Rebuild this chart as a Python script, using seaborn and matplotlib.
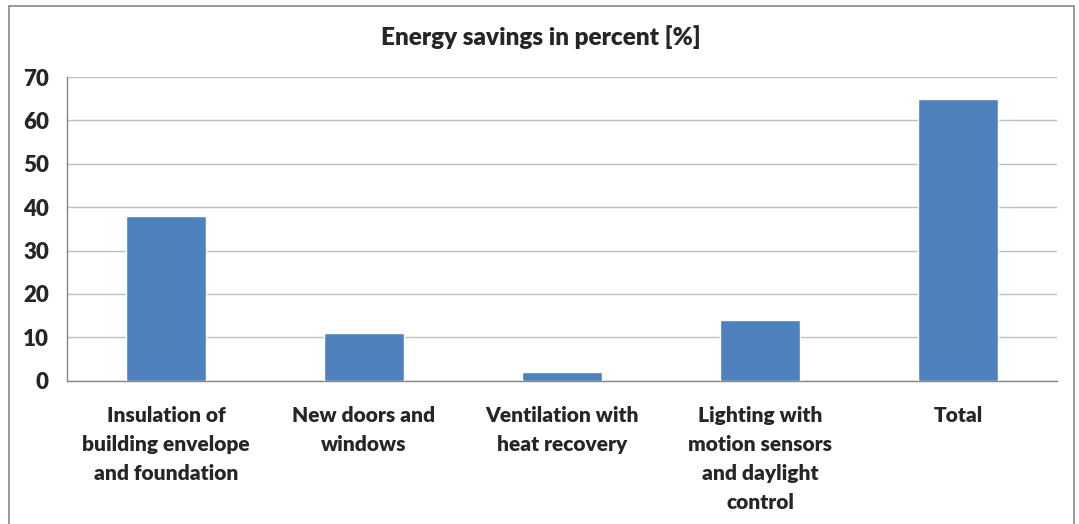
import numpy as np
import pandas as pd
import matplotlib
matplotlib.use('Agg')
import matplotlib.pyplot as plt
import seaborn as sns
from matplotlib.patches import Rectangle

categories = ['Insulation of\nbuilding envelope\nand foundation',
              'New doors and\nwindows',
              'Ventilation with\nheat recovery',
              'Lighting with\nmotion sensors\nand daylight\ncontrol',
              'Total']
savings = [38, 11, 2, 14, 65]
y_ticks = [0, 10, 20, 30, 40, 50, 60, 70]

df = pd.DataFrame({'measure': categories, 'savings': savings})

sns.set_style('white')
plt.rcParams['font.family'] = ['Lato', 'DejaVu Sans']
plt.rcParams['font.weight'] = 'bold'

fig = plt.figure(figsize=(10.79, 5.24), dpi=100)
ax = fig.add_axes([0.0621, 0.2735, 0.9175, 0.5795])

sns.barplot(data=df, x='measure', y='savings', color='#4F81BD', width=0.4,
            saturation=1, ax=ax, zorder=3)

ax.set_ylim(0, 70)
ax.set_xlim(-0.5, len(categories) - 0.5)
ax.set_yticks(y_ticks)
ax.set_yticklabels([str(t) for t in y_ticks], fontsize=16, fontweight='heavy')
ax.set_xticks(range(len(categories)))
ax.set_xticklabels(categories, fontsize=15, fontweight='heavy', linespacing=1.63)
# small tick marks between the categories
ax.set_xticks(np.arange(-0.5, len(categories)), minor=True)
ax.tick_params(axis='x', which='major', length=0, pad=18)
ax.tick_params(axis='x', which='minor', length=8, color='#868686', width=1)
ax.tick_params(axis='y', length=8, color='#868686', width=1, pad=5)
ax.set_xlabel('')
ax.set_ylabel('')
ax.yaxis.grid(True, color='#BFBFBF', linewidth=1, zorder=0)
ax.set_axisbelow(True)

for side in ['top', 'right']:
    ax.spines[side].set_visible(False)
for side in ['left', 'bottom']:
    ax.spines[side].set_color('#868686')
    ax.spines[side].set_linewidth(1)

fig.text(0.5015, 0.93, 'Energy savings in percent [%]', ha='center', va='center',
         fontsize=17.5, fontweight='heavy')

# chart-area border
fig.patches.append(Rectangle((9 / 1079, -0.05), 1065 / 1079, 1.05 - 6 / 524,
                             transform=fig.transFigure, fill=False,
                             edgecolor='#868686', linewidth=1.2))

fig.savefig('out.png', dpi=100)
